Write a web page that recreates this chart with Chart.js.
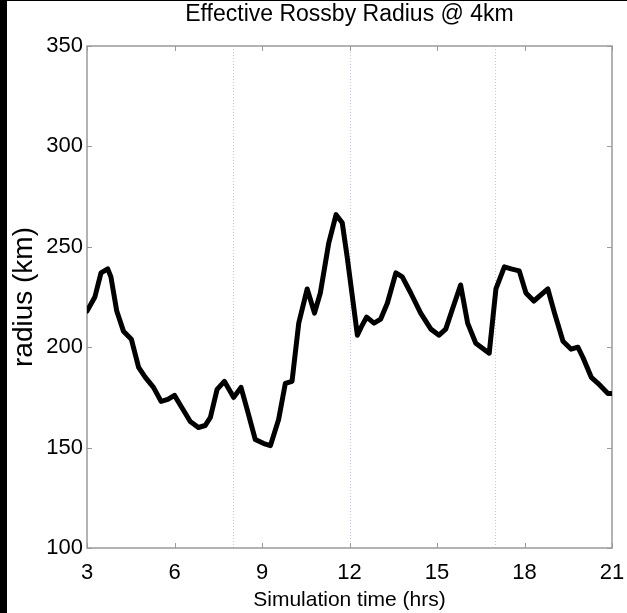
<!DOCTYPE html>
<html lang="en">
<head>
  <meta charset="UTF-8">
  <title>Effective Rossby Radius @ 4km</title>
  <script src="https://cdn.jsdelivr.net/npm/chart.js@4.4.1/dist/chart.umd.min.js"></script>
  <style>
    body {
      margin: 0;
      background-color: #000;
    }
    .chart-box {
      position: absolute;
      left: 7px;
      top: 1px;
      width: 620px;
      height: 612px;
      background-color: #fff;
    }
  </style>
</head>
<body>
  <div class="chart-box">
    <canvas id="chart"></canvas>
  </div>
  <script>
    // simulation time (hrs) and effective Rossby radius (km)
    const times = [3.0, 3.27, 3.48, 3.71, 3.82, 4.02, 4.25, 4.52, 4.77, 5.0,
      5.28, 5.54, 5.77, 6.0, 6.25, 6.54, 6.82, 7.05, 7.23, 7.46,
      7.71, 8.03, 8.28, 8.49, 8.77, 9.06, 9.29, 9.57, 9.8, 10.03,
      10.26, 10.55, 10.8, 11.0, 11.29, 11.54, 11.75, 11.92, 12.1, 12.27,
      12.4, 12.59, 12.84, 13.07, 13.3, 13.59, 13.81, 14.1, 14.44, 14.79,
      15.07, 15.3, 15.53, 15.81, 16.05, 16.33, 16.79, 17.02, 17.31, 17.54,
      17.82, 18.05, 18.32, 18.8, 19.03, 19.32, 19.6, 19.83, 20.0, 20.29,
      20.52, 20.86, 21.0];
    const radius = [218, 225, 237, 239, 235, 218, 208, 204, 190, 185,
      180, 173, 174, 176, 170, 163, 160, 161, 165, 179,
      183, 175, 180, 169, 154, 152, 151, 164, 182, 183,
      212, 229, 217, 227, 252, 266, 262, 245, 225, 206,
      210, 215, 212, 214, 222, 237, 235, 227, 217, 209,
      206, 209, 219, 231, 212, 202, 197, 229, 240, 239,
      238, 227, 223, 229, 217, 203, 199, 200, 195, 185,
      182, 177, 177];
    const xTicks = [3, 6, 9, 12, 15, 18, 21];
    const yTicks = [100, 150, 200, 250, 300, 350];
    const markerTimes = [8, 12, 17];
    const titleText = 'Effective Rossby Radius @ 4km';

    const fontFamily = "'Liberation Sans', Arial, sans-serif";

    // box around the plot, inward ticks, and the dotted time markers
    const framePlugin = {
      id: 'frame',
      beforeDatasetsDraw(chart) {
        const ctx = chart.ctx;
        const area = chart.chartArea;
        const xs = chart.scales.x;
        const ys = chart.scales.y;
        ctx.save();

        ctx.strokeStyle = '#c4c8dc';
        ctx.lineWidth = 1;
        ctx.setLineDash([1, 2]);
        markerTimes.forEach(function (t) {
          const px = Math.round(xs.getPixelForValue(t)) + 0.5;
          ctx.beginPath();
          ctx.moveTo(px, area.top);
          ctx.lineTo(px, area.bottom);
          ctx.stroke();
        });
        ctx.setLineDash([]);

        ctx.strokeStyle = '#9a9a9a';
        ctx.lineWidth = 1.5;
        ctx.strokeRect(area.left, area.top, area.right - area.left, area.bottom - area.top);

        ctx.lineWidth = 1;
        xTicks.forEach(function (t) {
          const px = Math.round(xs.getPixelForValue(t)) + 0.5;
          ctx.beginPath();
          ctx.moveTo(px, area.bottom);
          ctx.lineTo(px, area.bottom - 5);
          ctx.moveTo(px, area.top);
          ctx.lineTo(px, area.top + 5);
          ctx.stroke();
        });
        yTicks.forEach(function (v) {
          const py = Math.round(ys.getPixelForValue(v)) + 0.5;
          ctx.beginPath();
          ctx.moveTo(area.left, py);
          ctx.lineTo(area.left + 5, py);
          ctx.moveTo(area.right, py);
          ctx.lineTo(area.right - 5, py);
          ctx.stroke();
        });

        // title centred over the plot box, like the original figure
        ctx.fillStyle = '#000';
        ctx.font = '23px ' + fontFamily;
        ctx.textAlign = 'center';
        ctx.textBaseline = 'middle';
        ctx.fillText(titleText, (area.left + area.right) / 2, 14);
        ctx.restore();
      }
    };

    new Chart(document.getElementById('chart'), {
      type: 'line',
      data: {
        datasets: [{
          data: times.map(function (t, i) { return { x: t, y: radius[i] }; }),
          borderColor: '#000',
          borderWidth: 5,
          pointRadius: 0,
          tension: 0,
          borderJoinStyle: 'round',
          borderCapStyle: 'round'
        }]
      },
      options: {
        responsive: true,
        maintainAspectRatio: false,
        animation: false,
        layout: {
          padding: { left: 0, right: 15, top: 45, bottom: 0 }
        },
        plugins: {
          legend: { display: false },
          tooltip: { enabled: false },
          title: { display: false }
        },
        scales: {
          x: {
            type: 'linear',
            min: 3,
            max: 21,
            afterBuildTicks: function (scale) {
              scale.ticks = xTicks.map(function (v) { return { value: v }; });
            },
            afterFit: function (scale) {
              scale.height = 65;
              scale.paddingLeft = 0;
              scale.paddingRight = 0;
            },
            grid: { display: false, drawTicks: false },
            border: { display: false },
            ticks: {
              color: '#000',
              padding: 12,
              maxRotation: 0,
              font: { family: fontFamily, size: 22 }
            },
            title: {
              display: true,
              text: 'Simulation time (hrs)',
              color: '#000',
              padding: 0,
              font: { family: fontFamily, size: 21 }
            }
          },
          y: {
            min: 100,
            max: 350,
            afterBuildTicks: function (scale) {
              scale.ticks = yTicks.map(function (v) { return { value: v }; });
            },
            afterFit: function (scale) {
              scale.width = 80;
              scale.paddingTop = 0;
              scale.paddingBottom = 0;
            },
            grid: { display: false, drawTicks: false },
            border: { display: false },
            ticks: {
              color: '#000',
              padding: 4,
              font: { family: fontFamily, size: 22 }
            },
            title: {
              display: true,
              text: 'radius (km)',
              color: '#000',
              padding: 0,
              font: { family: fontFamily, size: 28 }
            }
          }
        }
      },
      plugins: [framePlugin]
    });
  </script>
</body>
</html>
